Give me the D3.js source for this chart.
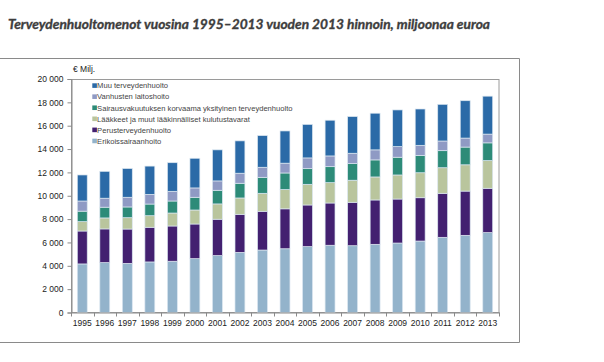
<!DOCTYPE html>
<html>
<head>
<meta charset="utf-8">
<script src="https://cdn.jsdelivr.net/npm/d3@7/dist/d3.min.js"></script>
<style>
  html, body { margin: 0; padding: 0; background: #fff; }
  svg { display: block; }
</style>
</head>
<body>
<svg id="chart" width="604" height="362"></svg>
<script>
const years = ["1995","1996","1997","1998","1999","2000","2001","2002","2003","2004","2005","2006","2007","2008","2009","2010","2011","2012","2013"];
const erikoissairaanhoito = [4160,4270,4210,4330,4390,4610,4870,5150,5350,5460,5640,5760,5720,5840,5950,6120,6440,6610,6840];
const perusterveydenhuolto = [2820,2890,2940,2970,3020,2970,3120,3260,3320,3420,3570,3620,3720,3800,3770,3710,3770,3790,3800];
const laakkeet = [800,940,970,990,1110,1200,1310,1400,1540,1650,1770,1740,1890,1970,2060,2140,2190,2250,2370];
const sairausvakuutus = [900,920,920,1000,1030,1090,1170,1260,1370,1420,1340,1370,1420,1460,1520,1490,1460,1520,1520];
const vanhustenLaitoshoito = [870,770,830,830,830,800,800,860,860,840,920,920,890,860,910,860,830,770,750];
const muuTerveydenhuolto = [2230,2300,2460,2420,2450,2540,2660,2770,2710,2760,2870,3060,3140,3140,3140,3110,3140,3200,3250];
const seriesNames = ["Erikoissairaanhoito","Perusterveydenhuolto","Lääkkeet ja muut lääkinnälliset kulutustavarat","Sairausvakuutuksen korvaama yksityinen terveydenhuolto","Vanhusten laitoshoito","Muu terveydenhuolto"];
const seriesValues = [erikoissairaanhoito, perusterveydenhuolto, laakkeet, sairausvakuutus, vanhustenLaitoshoito, muuTerveydenhuolto];
const seriesColors = ["#93b3cb","#432070","#b9c59d","#2d8b78","#8f9ac4","#2b6aa7"];
const yTicks = [0,2000,4000,6000,8000,10000,12000,14000,16000,18000,20000];
const titleText = "Terveydenhuoltomenot vuosina 1995–2013 vuoden 2013 hinnoin, miljoonaa euroa";
const unitLabel = "€ Milj.";

const svg = d3.select("#chart");
const font = "'Liberation Sans', Arial, sans-serif";
const plot = {left: 71, right: 499, top: 79, bottom: 312.5};

// Title
svg.append("text")
  .attr("x", 8).attr("y", 28.5)
  .attr("font-family", "Lato, 'Open Sans', sans-serif")
  .attr("font-weight", "bold").attr("font-style", "italic")
  .attr("font-size", 13.8).attr("fill", "#3d3d3d")
  .attr("stroke", "#3d3d3d").attr("stroke-width", 0.35)
  .attr("textLength", 482).attr("lengthAdjust", "spacingAndGlyphs")
  .text(titleText);

// Outer frame (top, right, bottom)
svg.append("path")
  .attr("d", `M0,58.5H519.5V342.5H0`)
  .attr("fill", "none").attr("stroke", "#8a8a8a").attr("stroke-width", 1);

// Data table
const table = years.map((yr, i) => {
  const row = {year: yr};
  seriesNames.forEach((n, k) => row[n] = seriesValues[k][i]);
  return row;
});
const stacked = d3.stack().keys(seriesNames)(table);

const x = d3.scaleBand().domain(years).range([plot.left, plot.right]).paddingInner(0.56).paddingOuter(0.28);
const y = d3.scaleLinear().domain([0, 20000]).range([plot.bottom, plot.top]);

// Plot border
svg.append("rect")
  .attr("x", plot.left + 0.5).attr("y", plot.top + 0.5)
  .attr("width", plot.right - plot.left - 0.5).attr("height", plot.bottom - plot.top - 0.5)
  .attr("fill", "none").attr("stroke", "#9a9a9a").attr("stroke-width", 1);

// Bars
svg.append("g").selectAll("g").data(stacked).join("g")
  .attr("fill", (d, i) => seriesColors[i])
  .selectAll("rect").data(d => d).join("rect")
  .attr("x", d => x(d.data.year))
  .attr("y", d => y(d[1]))
  .attr("width", x.bandwidth())
  .attr("height", d => y(d[0]) - y(d[1]))
  .attr("stroke", "#dbe6f0").attr("stroke-width", 0.7);

// Y axis
const fmt = d3.formatLocale({decimal: ",", thousands: " ", grouping: [3], currency: ["", "€"]}).format(",");
const yAxis = svg.append("g").attr("transform", `translate(${plot.left + 0.5},0)`)
  .call(d3.axisLeft(y).tickValues(yTicks).tickSize(4).tickPadding(4).tickFormat(fmt));
yAxis.select(".domain").attr("stroke", "#8a8a8a");
yAxis.selectAll(".tick line").attr("stroke", "#8a8a8a");
yAxis.selectAll("text").attr("font-family", font).attr("font-size", 8.5).attr("fill", "#222");

// X axis
const xAxis = svg.append("g").attr("transform", `translate(0,${plot.bottom})`)
  .call(d3.axisBottom(x).tickSize(0).tickPadding(7.5));
xAxis.select(".domain").attr("stroke", "#8a8a8a");
xAxis.selectAll("text").attr("font-family", font).attr("font-size", 8.5).attr("fill", "#222");
// boundary tick marks
xAxis.append("g").selectAll("line").data(d3.range(years.length + 1)).join("line")
  .attr("x1", i => Math.round(plot.left + i * x.step()) + 0.5)
  .attr("x2", i => Math.round(plot.left + i * x.step()) + 0.5)
  .attr("y1", 0).attr("y2", 4)
  .attr("stroke", "#8a8a8a");

// Unit label
svg.append("text").attr("x", 73).attr("y", 71.5)
  .attr("font-family", font).attr("font-size", 8.5).attr("fill", "#222")
  .text(unitLabel);

// Legend
const legendOrder = d3.range(seriesNames.length).reverse();
const lg = svg.append("g").selectAll("g").data(legendOrder).join("g")
  .attr("transform", (d, j) => `translate(92.3,${85.7 + j * 11.07})`);
lg.append("rect").attr("x", 0).attr("y", -2.4).attr("width", 4.6).attr("height", 4.6)
  .attr("fill", d => seriesColors[d]);
lg.append("text").attr("x", 4.8).attr("y", 0).attr("dy", "0.35em")
  .attr("font-family", font).attr("font-size", 7.6).attr("fill", "#444")
  .text(d => seriesNames[d]);
</script>
</body>
</html>
